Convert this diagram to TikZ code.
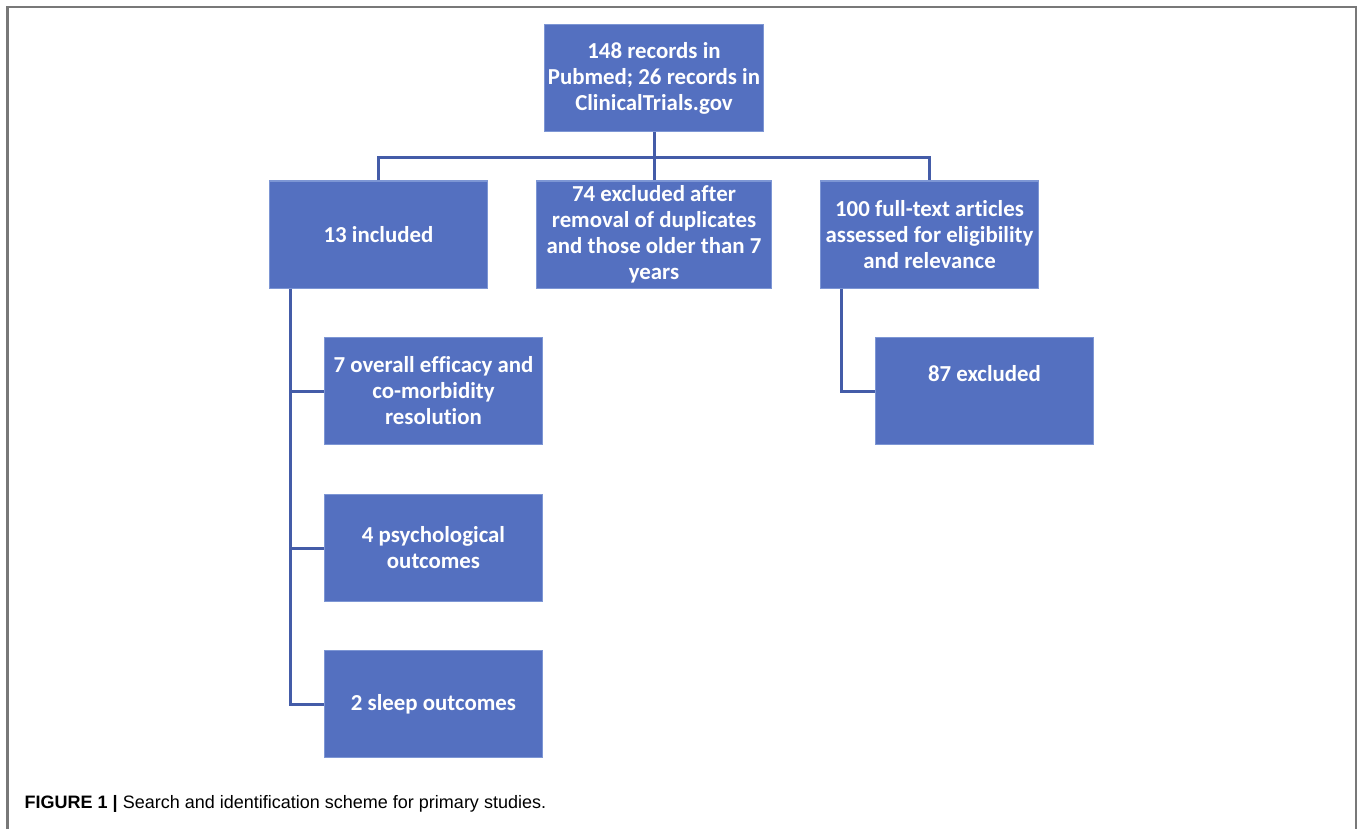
\documentclass[tikz,border=0pt]{standalone}
\usepackage{fontspec}
\setmainfont{Carlito}[Ligatures=NoCommon]
\newfontfamily\capfont{Liberation Sans}
\definecolor{boxblue}{RGB}{84,112,192}
\definecolor{boxedge}{RGB}{125,150,212}
\definecolor{linkblue}{RGB}{68,92,168}
\definecolor{framegray}{RGB}{120,120,120}
\newcommand{\boxfont}{\fontsize{6.5pt}{7.4pt}\selectfont\bfseries}
\tikzset{
  blockbox/.style={draw=boxedge, line width=0.3pt, fill=boxblue, text=white,
    minimum width=2.17cm, minimum height=1.07cm, inner sep=0pt,
    align=center, font=\boxfont},
  link/.style={draw=linkblue, line width=0.03cm}
}
\begin{document}
\begin{tikzpicture}[x=0.01cm,y=-0.01cm]
\useasboundingbox (0,0) rectangle (1360,829);
\draw[framegray, line width=0.02cm] (7.5,829) -- (7.5,6.5) -- (1356,6.5) -- (1356,829);
% boxes
\node[blockbox, minimum width=2.18cm] (top) at (654,78) {148 records in\\Pubmed; 26 records in\\ClinicalTrials.gov};
\node[blockbox] (incl) at (378.5,234.5) {13 included};
\node[blockbox, minimum width=2.34cm] (mid) at (654,234.5) {74 excluded after\\removal of duplicates\\and those older than 7\\years};
\node[blockbox] (full) at (929.5,234.5) {100 full-text articles\\assessed for eligibility\\and relevance};
\node[blockbox] (overall) at (433.5,391) {7 overall efficacy and\\co-morbidity\\resolution};
\node[blockbox] (psych) at (433.5,548) {4 psychological\\outcomes};
\node[blockbox] (sleep) at (433.5,704) {2 sleep outcomes};
\node[blockbox] (excl) at (984.5,391) {87 excluded\\[0.1cm]\mbox{}};
% connectors
\coordinate (bus) at (654,157);
\coordinate (lspine) at (290,0);
\coordinate (rspine) at (841,0);
\draw[link] (top.south) -- (mid.north);
\draw[link] (incl.north) -- (incl.north |- bus) -- (full.north |- bus) -- (full.north);
\draw[link] (incl.south -| lspine) |- (sleep.west);
\draw[link] (lspine |- overall.west) -- (overall.west);
\draw[link] (lspine |- psych.west) -- (psych.west);
\draw[link] (full.south -| rspine) |- (excl.west);
% caption
\node[anchor=base west, inner sep=0pt, font=\capfont\fontsize{5.12pt}{6pt}\selectfont] (cap) at (24,808)
  {\textbf{FIGURE 1 |} Search and identification scheme for primary studies.};
\end{tikzpicture}
\end{document}
